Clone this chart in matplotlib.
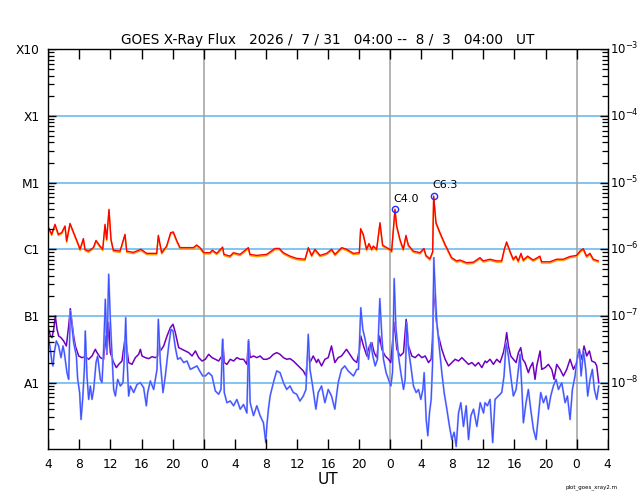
import matplotlib
matplotlib.use("Agg")
import matplotlib.pyplot as plt
import numpy as np
from matplotlib.ticker import LogLocator
from matplotlib.transforms import offset_copy

# hours since 2026/7/31 04:00 UT
long_t = [0.0, 0.43, 0.86, 1.29, 1.72, 2.15, 2.36, 2.79, 3.44, 3.86, 4.08, 4.51, 4.72, 5.15, 5.80,
          6.14, 6.65, 7.0, 7.30, 7.51, 7.81, 8.07, 8.37, 9.23, 9.87, 10.09, 10.94, 11.93, 12.66,
          13.95, 14.16, 14.59, 15.23, 15.75, 16.09, 16.52, 16.95, 17.81, 18.67, 19.10, 19.52,
          20.04, 20.81, 21.11, 21.67, 22.44, 22.61, 23.39, 23.82, 24.67, 25.75, 25.96, 26.82,
          28.10, 29.18, 29.73, 30.25, 31.11, 31.97, 33.04, 33.47, 33.90, 34.32, 34.97, 35.83,
          36.47, 36.90, 37.76, 38.40, 39.26, 40.03, 40.20, 40.54, 40.97, 41.27, 41.62, 41.83,
          42.26, 42.69, 43.03, 43.55, 43.98, 44.19, 44.62, 44.84, 45.26, 45.69, 46.04, 46.34,
          46.98, 47.84, 48.35, 48.61, 49.12, 49.47, 49.60, 49.90, 50.41, 51.06, 51.91, 52.56,
          52.99, 53.84, 54.70, 55.56, 55.99, 56.85, 57.70, 58.35, 58.69, 58.99, 59.42, 59.85,
          60.19, 60.49, 60.84, 61.14, 61.70, 62.42, 63.28, 63.49, 64.57, 65.43, 66.28, 67.14,
          68.0, 68.43, 68.86, 69.29, 69.72, 70.15, 70.79]
# long channel flux, units of 1e-6 W/m2
long_c = [2.16, 1.68, 2.37, 1.68, 1.78, 2.24, 1.33, 2.45, 1.58, 1.19, 1.0, 1.45, 1.0, 0.94, 1.06,
          1.36, 1.12, 1.0, 2.37, 1.41, 3.98, 1.41, 0.97, 0.94, 1.68, 0.94, 0.9, 1.0, 0.87,
          0.87, 1.62, 0.89, 1.12, 1.78, 1.82, 1.36, 1.06, 1.06, 1.06, 1.16, 1.06,
          0.89, 0.89, 0.97, 0.87, 1.08, 0.84, 0.79, 0.89, 0.84, 1.06, 0.84, 0.81,
          0.84, 1.03, 1.03, 0.89, 0.79, 0.73, 0.71, 1.06, 0.81, 1.0, 0.81, 0.87,
          1.0, 0.84, 1.06, 1.0, 0.87, 0.89, 2.04, 1.68, 1.0, 1.22, 1.0, 1.12,
          1.0, 2.51, 1.16, 1.06, 1.0, 0.94, 4.0, 2.24, 1.41, 1.0, 1.62, 1.16,
          0.94, 0.89, 1.03, 0.81, 0.72, 0.92, 6.3, 2.51, 1.78, 1.19, 0.75, 0.67,
          0.69, 0.63, 0.64, 0.75, 0.67, 0.71, 0.67, 0.67, 1.0, 1.29, 0.94, 0.71,
          0.79, 0.67, 0.87, 0.69, 0.79, 0.69, 0.79, 0.65, 0.65, 0.71, 0.71, 0.78,
          0.81, 0.94, 1.02, 0.79, 0.87, 0.71, 0.67]

purple_t = [0.0, 0.26, 0.47, 0.69, 0.90, 1.12, 1.33, 1.63, 1.97, 2.32, 2.62, 2.83, 3.05, 3.26,
            3.48, 3.91, 4.33, 4.76, 5.19, 5.62, 6.05, 6.27, 6.70, 7.12, 7.34, 7.55, 7.77, 7.98,
            8.41, 8.76, 9.06, 9.48, 9.91, 10.34, 10.77, 11.20, 11.63, 11.85, 12.06, 12.49,
            12.92, 13.35, 13.78, 14.08, 14.16, 14.42, 14.85, 15.28, 15.71, 16.05, 16.35, 16.78,
            17.21, 17.64, 18.07, 18.50, 18.93, 19.36, 19.79,
            20.21, 20.64, 21.07, 21.50, 21.92, 22.35, 22.44, 22.65, 22.99, 23.42, 23.85, 24.27,
            24.70, 25.13, 25.56, 25.77, 25.98, 26.41, 26.84, 27.26, 27.69, 28.12, 28.55, 28.97,
            29.40, 29.83, 30.26, 30.68, 31.11, 31.54, 31.97, 32.39, 32.82, 33.16, 33.46, 33.68,
            34.10, 34.53, 34.74, 35.17, 35.60, 36.03, 36.45, 36.88, 37.31, 37.74, 38.38, 38.80,
            39.28, 39.71, 40.05, 40.22, 40.57, 41.0, 41.34, 41.64, 41.94, 42.28, 42.63, 42.93,
            43.36, 43.79, 44.09, 44.52, 44.86, 45.29, 45.72, 46.06, 46.36, 46.79, 47.22, 47.65,
            48.08, 48.51, 48.94, 49.28, 49.45, 49.62, 49.92, 50.22, 50.65, 51.08, 51.51, 51.94,
            52.37, 52.80, 53.23, 53.66, 54.09, 54.52, 54.94, 55.37, 55.80, 56.23,
            56.43, 56.86, 57.29, 57.72, 58.15, 58.58, 58.79, 59.0, 59.22, 59.52, 59.86, 60.21,
            60.51, 60.81, 61.06, 61.36, 61.79, 62.01, 62.35, 62.65, 62.87, 63.30, 63.51, 63.94,
            64.37, 64.80, 65.10, 65.44, 65.87, 66.30, 66.73, 67.16, 67.59, 68.02, 68.32, 68.66,
            68.96, 69.30, 69.65, 69.95, 70.38, 70.59, 70.85]
# units of 1e-8 W/m2
purple_a = [6.68, 5.01, 4.73, 6.31, 10.0, 6.31, 5.01, 4.73, 4.22, 3.55, 7.08, 12.9, 7.94, 5.01,
            3.55, 2.51, 2.37, 2.45, 2.24, 2.51, 3.16, 2.82, 2.37, 2.24, 5.0, 2.66, 8.0, 2.82,
            2.0, 1.68, 1.88, 2.11, 5.0, 2.0, 1.88, 2.37, 2.66, 3.16, 2.51, 2.37,
            2.29, 2.45, 2.37, 2.51, 4.5, 2.99, 3.55, 5.01, 6.68, 7.5, 5.62, 3.35,
            3.16, 2.99, 2.82, 2.51, 2.99, 2.37, 2.11,
            2.24, 2.66, 2.37, 2.24, 2.11, 2.51, 4.47, 2.0, 1.88, 2.24, 2.11, 2.37,
            2.24, 2.24, 1.88, 4.37, 2.37, 2.51, 2.37, 2.51, 2.24, 2.24, 2.37, 2.66,
            2.82, 2.66, 2.37, 2.24, 2.29, 2.11, 1.88, 1.68, 1.50, 1.26, 3.16, 2.0,
            2.51, 2.0, 2.24, 1.78, 2.24, 2.37, 3.55, 2.0, 2.37, 2.51, 3.16, 2.66,
            2.2, 2.0, 3.16, 5.01, 3.55, 2.51, 3.55, 3.98, 2.82, 2.37, 5.01, 3.16,
            2.51, 2.24, 2.0, 8.0, 3.16, 2.51, 2.82, 8.91, 3.55, 2.51, 2.37, 2.66,
            2.37, 2.51, 2.0, 2.24, 4.47, 30.0, 8.91, 5.01, 3.16, 2.24, 1.78, 2.0,
            2.24, 2.11, 2.37, 2.11, 1.88, 2.0, 1.78, 2.0, 1.68, 2.11,
            2.0, 2.24, 1.88, 2.24, 2.0, 2.82, 3.76, 5.62, 3.55, 2.51, 2.24, 2.0,
            2.82, 3.35, 2.24, 2.0, 1.41, 1.68, 2.0, 1.12, 1.78, 2.99, 1.58, 1.68,
            1.88, 1.58, 1.12, 1.88, 1.58, 1.26, 1.58, 2.24, 1.58, 2.0, 3.16, 2.24,
            3.55, 2.51, 2.99, 2.11, 2.0, 1.78, 1.0]

blue_t = [0.0, 0.26, 0.47, 0.60, 0.77, 1.03, 1.33, 1.63, 1.89, 2.06, 2.40, 2.62, 2.83, 3.05,
          3.26, 3.61, 3.78, 4.03, 4.21, 4.42, 4.64, 4.76, 4.98, 5.19, 5.41, 5.62, 5.84, 6.14,
          6.35, 6.70, 6.91, 7.12, 7.34, 7.55, 7.77, 7.98, 8.20, 8.41, 8.63, 8.93, 9.27, 9.61,
          9.83, 9.96, 10.13, 10.34, 10.56, 10.99, 11.42, 11.85, 12.27, 12.62, 12.79, 13.13,
          13.56, 13.99, 14.16, 14.42, 14.76, 15.06, 15.49, 15.79, 16.05, 16.35, 16.65, 17.00,
          17.42, 17.85, 18.28, 18.71, 19.14, 19.48, 19.87,
          20.21, 20.64, 21.07, 21.50, 21.92, 22.22, 22.44, 22.65, 22.99, 23.42, 23.85, 24.27,
          24.70, 25.13, 25.56, 25.77, 25.98, 26.41, 26.84, 27.26, 27.69, 27.99, 28.12, 28.33,
          28.55, 28.97, 29.40, 29.83, 30.26, 30.68, 31.11, 31.54, 31.97, 32.39, 32.82, 33.16,
          33.46, 33.68, 34.02, 34.44, 34.74, 35.17, 35.60, 36.03, 36.45, 36.88, 37.31, 37.74,
          38.16, 38.59,
          39.28, 39.71, 39.92, 40.22, 40.48, 40.78, 41.21, 41.51, 41.77, 42.07, 42.37, 42.67,
          42.93, 43.14, 43.48, 43.79, 44.09, 44.30, 44.52, 44.73, 45.07, 45.37, 45.72, 45.93,
          46.15, 46.36, 46.66, 47.0, 47.35, 47.65, 47.95, 48.21, 48.38, 48.64, 48.85, 49.06,
          49.28, 49.45, 49.62, 49.79, 50.01, 50.31, 50.65, 50.95, 51.30, 51.64, 51.94, 52.24,
          52.50, 52.80, 53.10, 53.44, 53.79, 54.09, 54.39, 54.73, 55.16, 55.59, 56.02,
          56.21, 56.52, 56.86, 57.20, 57.50, 57.93, 58.36, 58.66, 58.92, 59.22, 59.52, 59.86,
          60.21, 60.51, 60.72, 60.94, 61.15, 61.49, 61.79, 62.09, 62.44, 62.78, 63.08, 63.38,
          63.73, 64.07, 64.37, 64.67, 65.01, 65.36, 65.66, 66.09, 66.52, 66.82, 67.16, 67.46,
          67.80, 68.10, 68.36, 68.58, 68.88, 69.18, 69.43, 69.73, 70.03, 70.29, 70.59, 70.85]
# units of 1e-8 W/m2
blue_a = [5.01, 3.16, 2.0, 1.78, 2.82, 4.22, 3.55, 2.37, 3.55, 2.82, 1.41, 1.12, 11.9, 6.68,
          3.98, 2.51, 1.12, 0.71, 0.28, 0.56, 1.58, 5.96, 1.26, 0.56, 0.89, 0.56, 0.79, 2.0,
          2.51, 1.12, 1.0, 3.16, 17.8, 2.82, 42.2, 8.91, 2.51, 0.79, 0.63, 1.12, 0.89, 1.0,
          2.99, 9.44, 2.24, 0.63, 0.89, 0.71, 0.94, 1.0, 0.84, 0.45, 0.71, 1.06,
          0.79, 1.58, 8.91, 2.0, 0.71, 1.26, 3.55, 6.31, 5.96, 3.35, 2.24, 2.37,
          2.0, 2.11, 1.58, 1.68, 1.78, 1.5, 1.26,
          1.26, 1.41, 1.26, 0.75, 0.67, 0.79, 4.47, 0.71, 0.5, 0.53, 0.45, 0.56,
          0.40, 0.47, 0.35, 4.22, 0.5, 0.32, 0.45, 0.32, 0.25, 0.126, 0.22, 0.40,
          0.63, 1.0, 1.5, 1.41, 1.0, 0.79, 0.89, 0.71, 0.67, 0.53, 0.63, 0.79,
          5.31, 1.58, 0.89, 0.40, 0.71, 0.89, 0.5, 0.79, 0.63, 0.40, 1.0, 1.58,
          1.78, 1.5,
          1.26, 1.58, 1.58, 13.3, 6.31, 4.47, 2.24, 3.98, 2.51, 1.78, 2.24, 18.2,
          5.01, 2.24, 1.41, 1.12, 0.89, 1.41, 36.3, 7.08, 2.51, 1.41, 0.79, 1.12,
          7.94, 3.16, 1.78, 0.89, 0.71, 0.79, 0.56, 0.79, 1.41, 0.28, 0.16, 0.35,
          0.56, 1.78, 75.0, 25.1, 7.94, 3.55, 1.41, 0.71, 0.40, 0.22, 0.14, 0.18,
          0.11, 0.35, 0.5, 0.22, 0.45, 0.14, 0.32, 0.40, 0.22, 0.5, 0.35,
          0.5, 0.45, 0.56, 0.126, 0.56, 0.63, 0.71, 1.26, 3.98, 2.51, 1.26, 0.63,
          0.79, 1.58, 2.66, 0.89, 0.25, 0.5, 0.79, 0.40, 0.2, 0.14, 0.32, 0.71,
          0.5, 0.63, 0.40, 0.63, 0.89, 1.12, 0.79, 1.0, 0.5, 0.63, 0.28, 0.79,
          1.26, 2.51, 3.16, 1.26, 2.99, 1.58, 0.63, 1.12, 1.58, 0.79, 0.56, 0.89]

flare_t = [44.62, 49.60]
flare_flux = [4.0e-6, 6.3e-6]
flare_labels = ["C4.0", "C6.3"]

hour_ticks = list(range(0, 73, 4))
hour_labels = ["4", "8", "12", "16", "20", "0", "4", "8", "12", "16", "20",
               "0", "4", "8", "12", "16", "20", "0", "4"]
day_lines = [20, 44, 68]
class_levels = [1e-3, 1e-4, 1e-5, 1e-6, 1e-7, 1e-8]
class_labels = ["X10", "X1", "M1", "C1", "B1", "A1"]
power_labels = [r"$10^{-3}$", r"$10^{-4}$", r"$10^{-5}$", r"$10^{-6}$", r"$10^{-7}$", r"$10^{-8}$"]

fig = plt.figure(figsize=(6.4, 5.0), dpi=100)
ax = fig.add_axes([0.0755, 0.1014, 0.874, 0.8])
ax.set_yscale("log")
ax.set_xlim(0, 72)
ax.set_ylim(1e-9, 1e-3)

for lv in class_levels[1:]:
    ax.axhline(lv, color="#6cbaf0", lw=1.2, zorder=1)
for d in day_lines:
    ax.axvline(d, color="#a0a0a0", lw=1.1, zorder=1)

long_f = np.array(long_c) * 1e-6
purple_f = np.array(purple_a) * 1e-8
blue_f = np.array(blue_a) * 1e-8

ax.plot(purple_t, purple_f, color="#7000c0", lw=1.1, zorder=2)
ax.plot(blue_t, blue_f, color="#a0adff", lw=1.4, zorder=3)
ax.plot(blue_t, blue_f, color="#3d50ff", lw=0.8, zorder=4)
shift = offset_copy(ax.transData, fig=fig, x=0, y=-1.3, units="dots")
ax.plot(long_t, long_f, color="#ff9a00", lw=1.0, zorder=5, transform=shift)
ax.plot(long_t, long_f, color="#ff0000", lw=1.0, zorder=6)

ax.plot(flare_t, flare_flux, "o", ms=4.5, mfc="none", mec="#2030ff", mew=1.0, zorder=7)
for t, f, lab in zip(flare_t, flare_flux, flare_labels):
    ax.annotate(lab, (t, f), xytext=(-1, 4), textcoords="offset points",
                ha="left", va="bottom", fontsize=8)

# tick labels from the axis, tick marks drawn as plain line segments (inside the frame)
ax.set_xticks(hour_ticks)
ax.set_xticklabels(hour_labels)
ax.set_yticks(class_levels)
ax.set_yticklabels(class_labels)
ax.yaxis.set_minor_locator(LogLocator(base=10, subs=np.arange(2, 10), numticks=100))
ax.tick_params(axis="both", which="both", length=0, labelsize=8.8, pad=6)

xtr = ax.get_xaxis_transform()
ytr = ax.get_yaxis_transform()
ax.vlines(hour_ticks, 0, 0.025, transform=xtr, colors="black", lw=1.0, zorder=8)
ax.vlines(hour_ticks, 0.975, 1, transform=xtr, colors="black", lw=1.0, zorder=8)
ax.hlines(class_levels, 0, 0.0145, transform=ytr, colors="black", lw=1.0, zorder=8)
ax.hlines(class_levels, 0.9855, 1, transform=ytr, colors="black", lw=1.0, zorder=8)
minor_locs = [v for v in ax.yaxis.get_minorticklocs() if 1e-9 < v < 1e-3]
ax.hlines(minor_locs, 0, 0.0105, transform=ytr, colors="black", lw=0.9, zorder=8)
ax.hlines(minor_locs, 0.9895, 1, transform=ytr, colors="black", lw=0.9, zorder=8)

ax.set_xlabel("UT", fontsize=11, labelpad=1)

# right-hand power-of-ten labels
for lv, lab in zip(class_levels, power_labels):
    ax.text(1.004, lv, lab, transform=ytr, ha="left", va="center", fontsize=8.5)

for s in ax.spines.values():
    s.set_linewidth(1.0)
    s.set_zorder(9)

ax.set_title("GOES X-Ray Flux   2026 /  7 / 31   04:00 --  8 /  3   04:00   UT",
             fontsize=9.8, pad=4)
fig.text(0.965, 0.025, "plot_goes_xray2.m", fontsize=4, ha="right", va="center")

fig.savefig("out.png", dpi=100)
